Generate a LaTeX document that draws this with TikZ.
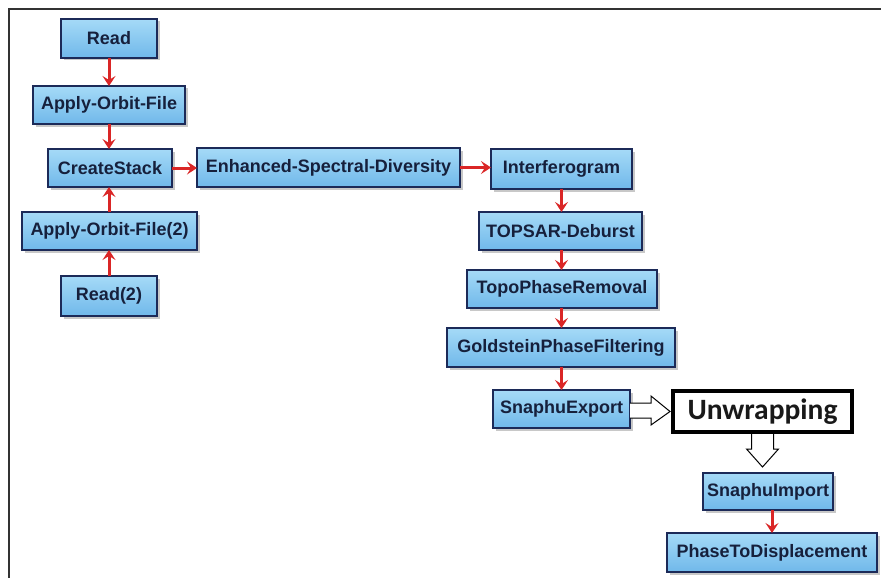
\documentclass[tikz,border=0pt]{standalone}
\usepackage{fontspec}
\newfontfamily\boxfont{Liberation Sans}
\newfontfamily\bigfont{Carlito}
\usetikzlibrary{arrows.meta,shadows,calc}
\definecolor{boxtop}{RGB}{165,218,247}
\definecolor{boxbot}{RGB}{112,184,234}
\definecolor{boxline}{RGB}{28,42,88}
\definecolor{txt}{RGB}{22,32,60}
\definecolor{arrred}{RGB}{218,38,38}
\begin{document}
\begin{tikzpicture}[x=1pt,y=-1pt,
  proc/.style={draw=boxline, line width=1.3pt, top color=boxtop, bottom color=boxbot,
    inner sep=0pt, outer sep=0pt, anchor=north west, text=txt,
    font=\boxfont\bfseries\fontsize{18}{21}\selectfont,
    drop shadow={shadow xshift=2.5pt,shadow yshift=-2.5pt,opacity=0.3,fill=black!70}},
  flow/.style={draw=arrred, line width=3pt, -{Stealth[length=10pt,width=13pt,inset=4pt]}},
  hollow/.style={draw=black, line width=1pt, fill=white, line join=miter},
  bigbox/.style={draw=black, line width=4pt, fill=white, inner sep=0pt, outer sep=0pt,
    anchor=north west, font=\bigfont\bfseries\fontsize{29.5}{33}\selectfont, text=black!90}]
\useasboundingbox (0,0) rectangle (881,578);
\fill[white] (0,0) rectangle (881,578);
\draw[line width=1.6pt, black!80] (9,578) -- (9,9) -- (881,9);

\node[proc, minimum width=96pt, minimum height=39pt] (read) at (61,19) {Read};
\node[proc, minimum width=152pt, minimum height=38pt] (aof) at (33,86) {Apply-Orbit-File};
\node[proc, minimum width=124pt, minimum height=38pt] (cs) at (48,149) {CreateStack};
\node[proc, minimum width=175pt, minimum height=38pt] (aof2) at (22,212) {Apply-Orbit-File(2)};
\node[proc, minimum width=96pt, minimum height=40pt] (read2) at (61,276) {Read(2)};
\node[proc, minimum width=263pt, minimum height=39pt] (esd) at (197,148) {Enhanced-Spectral-Diversity};
\node[proc, minimum width=141pt, minimum height=40pt] (ifg) at (491,149) {Interferogram};
\node[proc, minimum width=163pt, minimum height=38pt] (deb) at (479,212) {TOPSAR-Deburst};
\node[proc, minimum width=190pt, minimum height=38pt] (topo) at (467,270) {TopoPhaseRemoval};
\node[proc, minimum width=228pt, minimum height=39pt] (gold) at (447,328) {GoldsteinPhaseFiltering};
\node[proc, minimum width=137pt, minimum height=38pt] (se) at (493,390) {SnaphuExport};
\node[bigbox, minimum width=179pt, minimum height=41pt] (uw) at (673,391) {Unwrapping};
\node[proc, minimum width=130pt, minimum height=37pt] (si) at (703,473) {SnaphuImport};
\node[proc, minimum width=210pt, minimum height=39pt] (ptd) at (667,533) {PhaseToDisplacement};

\draw[flow] (read.south) -- (read.south |- aof.north);
\draw[flow] (read.south |- aof.south) -- (read.south |- cs.north);
\draw[flow] (read.south |- aof2.north) -- (read.south |- cs.south);
\draw[flow] (read2.north) -- (read2.north |- aof2.south);
\draw[flow] (cs.east) -- (cs.east -| esd.west);
\draw[flow] (esd.east) -- (esd.east -| ifg.west);
\draw[flow] (ifg.south) -- (ifg.south |- deb.north);
\draw[flow] (ifg.south |- deb.south) -- (ifg.south |- topo.north);
\draw[flow] (ifg.south |- topo.south) -- (ifg.south |- gold.north);
\draw[flow] (ifg.south |- gold.south) -- (ifg.south |- se.north);
\coordinate (sib) at ($(si.south)+(4,0)$);
\draw[flow] (sib) -- (sib |- ptd.north);

\coordinate (rtip) at ($(uw.west)+(-3,0)$);
\draw[hollow] ($(se.east)+(0,-6)$) -- ($(se.east)+(21,-6)$) -- ($(se.east)+(21,-13)$)
  -- (rtip) -- ($(se.east)+(21,16)$) -- ($(se.east)+(21,9)$) -- ($(se.east)+(0,9)$);
\coordinate (dtip) at ($(uw.south)+(0,35)$);
\draw[hollow] ($(uw.south)+(-11,2)$) -- ($(uw.south)+(-11,17)$) -- ($(uw.south)+(-16,17)$)
  -- (dtip) -- ($(uw.south)+(16,17)$) -- ($(uw.south)+(11,17)$) -- ($(uw.south)+(11,2)$);
\end{tikzpicture}
\end{document}
